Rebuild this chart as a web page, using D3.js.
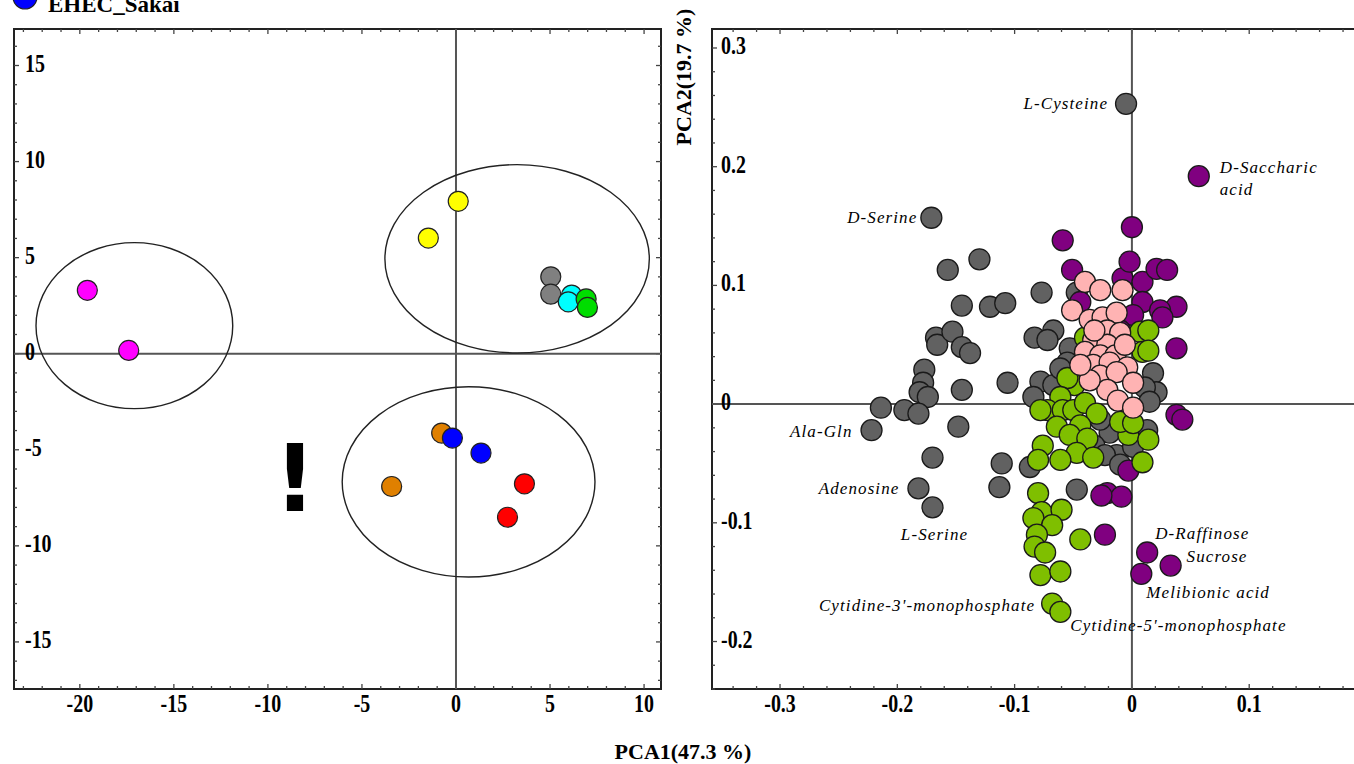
<!DOCTYPE html>
<html>
<head>
<meta charset="utf-8">
<script src="https://cdn.jsdelivr.net/npm/d3@7"></script>
<style>
  body { margin: 0; background: #fff; }
  svg { display: block; }
  .tick-label { font-family: "Liberation Serif", "Times New Roman", serif; font-weight: bold; font-size: 19px; }
  .axis-title { font-family: "Liberation Serif", "Times New Roman", serif; font-weight: bold; font-size: 22px; }
  .var-label { font-family: "Liberation Serif", "Times New Roman", serif; font-style: italic; font-size: 17px; letter-spacing: 1.1px; }
</style>
</head>
<body>
<svg id="chart"></svg>
<script>
// ---- score plot (left) : samples, grouped by colour ----
var scoreGroups = ["magenta", "yellow", "gray", "cyan", "green", "orange", "blue", "red"];
var scoreX = {
  magenta: [-19.6, -17.4],
  yellow: [0.12, -1.47],
  gray: [5.04, 5.04],
  cyan: [6.15, 5.97],
  green: [6.92, 6.99],
  orange: [-0.76, -3.42],
  blue: [-0.19, 1.33],
  red: [3.64, 2.74]
};
var scoreY = {
  magenta: [3.3, 0.17],
  yellow: [7.93, 6.02],
  gray: [4.0, 3.1],
  cyan: [3.05, 2.7],
  green: [2.85, 2.41],
  orange: [-4.13, -6.91],
  blue: [-4.39, -5.17],
  red: [-6.77, -8.51]
};
// confidence ellipses: centre x, centre y, half-width, half-height
var ellipseCx = [-17.1, 3.25, 0.67];
var ellipseCy = [1.46, 4.94, -6.67];
var ellipseRx = [5.23, 7.03, 6.72];
var ellipseRy = [4.32, 4.9, 4.95];

var scoreXTicks = [-20, -15, -10, -5, 0, 5, 10];
var scoreYTicks = [15, 10, 5, 0, -5, -10, -15];

// ---- loading plot (right) : metabolites, grouped by colour ----
var loadGroups = ["gray", "purple", "green", "pink"];
var loadX = {
  gray: [-0.005, -0.171, -0.157, -0.130, -0.145, -0.121, -0.108, -0.167, -0.166, -0.153, -0.145, -0.138,
         -0.177, -0.178, -0.181, -0.174, -0.145, -0.214, -0.194, -0.182, -0.222, -0.148, -0.170, -0.182,
         -0.170, -0.077, -0.047, -0.067, -0.083, -0.072, -0.053, -0.055, -0.106, -0.078, -0.084, -0.067,
         -0.061, -0.111, -0.113, -0.087, -0.047, -0.019, -0.013, 0.001, 0.013, 0.018, 0.021, 0.011,
         -0.032, -0.023, -0.027, -0.010, 0.015],
  purple: [0.057, -0.059, 0.000, -0.051, -0.008, 0.009, 0.021, 0.030, 0.009, 0.038, 0.024, 0.026,
           0.001, 0.038, -0.044, -0.010, 0.038, 0.043, -0.003, -0.021, -0.009, -0.026, -0.023, 0.013,
           0.033, 0.008, -0.002],
  green: [-0.049, -0.055, -0.061, -0.072, -0.078, -0.059, -0.050, -0.040, -0.030, -0.064, -0.044, -0.053,
          -0.038, -0.076, -0.047, -0.033, -0.061, -0.080, -0.003, 0.014, 0.009, -0.010, 0.001, -0.080,
          -0.077, -0.060, -0.084, -0.068, -0.081, -0.083, -0.074, -0.044, -0.078, -0.061, -0.068, -0.061,
          0.007, 0.014, -0.040, 0.009, 0.014, -0.040],
  pink: [-0.040, -0.027, -0.008, -0.051, -0.036, -0.025, -0.013, -0.021, -0.010, -0.033, -0.021, -0.040,
         -0.027, -0.014, -0.033, -0.019, -0.004, -0.027, -0.013, 0.001, -0.021, -0.036, -0.012, 0.001,
         -0.044, -0.032, -0.006]
};
var loadY = {
  gray: [0.253, 0.157, 0.113, 0.122, 0.083, 0.082, 0.085, 0.056, 0.050, 0.061, 0.048, 0.043,
         0.029, 0.018, 0.010, 0.006, 0.012, -0.003, -0.005, -0.008, -0.022, -0.019, -0.045, -0.071,
         -0.087, 0.094, 0.094, 0.062, 0.056, 0.054, 0.047, 0.035, 0.018, 0.019, 0.006, 0.016,
         0.030, -0.050, -0.070, -0.053, -0.072, -0.024, -0.043, -0.036, -0.022, 0.026, 0.010, 0.014,
         -0.035, -0.043, -0.013, -0.051, 0.002],
  purple: [0.192, 0.138, 0.149, 0.113, 0.106, 0.103, 0.114, 0.113, 0.086, 0.082, 0.079, 0.073,
           0.075, 0.047, 0.086, 0.062, -0.009, -0.013, -0.056, -0.075, -0.078, -0.077, -0.110, -0.125,
           -0.136, -0.143, 0.120],
  green: [0.016, 0.022, 0.006, -0.005, -0.005, -0.005, -0.005, 0.001, -0.008, -0.019, -0.018, -0.026,
          -0.029, -0.035, -0.041, -0.045, -0.047, -0.047, -0.026, -0.030, -0.049, -0.015, -0.016, -0.075,
          -0.091, -0.089, -0.096, -0.102, -0.110, -0.120, -0.125, -0.114, -0.144, -0.141, -0.168, -0.175,
          0.061, 0.062, 0.056, 0.044, 0.045, 0.037],
  pink: [0.103, 0.096, 0.096, 0.079, 0.071, 0.073, 0.077, 0.062, 0.060, 0.054, 0.050, 0.044,
         0.041, 0.041, 0.033, 0.035, 0.031, 0.024, 0.027, 0.018, 0.012, 0.020, 0.003, -0.003,
         0.033, 0.062, 0.050]
};

// named metabolites: text, group, index of the point in that group
var labelText = ["L-Cysteine", "D-Saccharic|acid", "D-Serine", "Ala-Gln", "Adenosine", "L-Serine",
                 "D-Raffinose", "Sucrose", "Melibionic acid", "Cytidine-3'-monophosphate", "Cytidine-5'-monophosphate"];
var labelGroup = ["gray", "purple", "gray", "gray", "gray", "gray", "purple", "purple", "purple", "green", "green"];
var labelIndex = [0, 0, 1, 20, 23, 24, 23, 24, 25, 34, 35];

var loadXTicks = [-0.3, -0.2, -0.1, 0, 0.1];
var loadYTicks = [0.3, 0.2, 0.1, 0, -0.1, -0.2];

// ---- styles ----
var scoreColor = {magenta: "#ff00ff", yellow: "#ffff00", gray: "#808080", cyan: "#00ffff",
                  green: "#00dd00", orange: "#e08000", blue: "#0000ff", red: "#ff0000"};
var loadColor = {gray: "#616161", purple: "#800080", green: "#7fbf00", pink: "#ffb3b3"};
// label offsets in px from the point: dx, dy, anchor
var labelDx = [-18, 21, -14, -19, -19, 2, 8, 16, 5, -17, 10];
var labelDy = [5, -3, 5, 7, 6, 33, -13, -4, 24, 7, 19];
var labelAnchor = ["end", "start", "end", "end", "end", "middle", "start", "start", "start", "end", "start"];

var W = 1354, H = 764;
var svg = d3.select("#chart").attr("width", W).attr("height", H);

function drawFrame(g, x, y, minorX, minorY) {
  var x0 = x.range()[0], x1 = x.range()[1], y0 = y.range()[0], y1 = y.range()[1];
  g.append("rect")
    .attr("x", x0).attr("y", y0)
    .attr("width", x1 - x0).attr("height", y1 - y0)
    .attr("fill", "none").attr("stroke", "#222").attr("stroke-width", 2);
  // inward ticks on all four sides
  minorX.forEach(function(v) {
    var len = v.major ? 5 : 3;
    g.append("line").attr("x1", x(v.v)).attr("x2", x(v.v)).attr("y1", y1).attr("y2", y1 - len)
      .attr("stroke", "#444").attr("stroke-width", 1.3);
    g.append("line").attr("x1", x(v.v)).attr("x2", x(v.v)).attr("y1", y0).attr("y2", y0 + len)
      .attr("stroke", "#444").attr("stroke-width", 1.3);
  });
  minorY.forEach(function(v) {
    var len = v.major ? 5 : 3;
    g.append("line").attr("y1", y(v.v)).attr("y2", y(v.v)).attr("x1", x0).attr("x2", x0 + len)
      .attr("stroke", "#444").attr("stroke-width", 1.3);
    g.append("line").attr("y1", y(v.v)).attr("y2", y(v.v)).attr("x1", x1).attr("x2", x1 - len)
      .attr("stroke", "#444").attr("stroke-width", 1.3);
  });
  // zero lines
  g.append("line").attr("x1", x(0)).attr("x2", x(0)).attr("y1", y0).attr("y2", y1)
    .attr("stroke", "#555").attr("stroke-width", 2);
  g.append("line").attr("x1", x0).attr("x2", x1).attr("y1", y(0)).attr("y2", y(0))
    .attr("stroke", "#555").attr("stroke-width", 2);
}

function tickList(lo, hi, step, majorStep) {
  var out = [];
  var n = Math.round((hi - lo) / step);
  for (var i = 0; i <= n; i++) {
    var v = +(lo + i * step).toFixed(4);
    out.push({v: v, major: Math.abs(v / majorStep - Math.round(v / majorStep)) < 1e-6});
  }
  return out;
}

function tickLabels(g, x, y, xt, yt, fmt, xLabelY, yLabelX) {
  g.selectAll(".xl").data(xt).join("text")
    .attr("class", "tick-label")
    .attr("text-anchor", "middle")
    .attr("transform", d => `translate(${x(d)},${xLabelY}) scale(1.05,1.35)`)
    .text(d => fmt(d));
  g.selectAll(".yl").data(yt).join("text")
    .attr("class", "tick-label")
    .attr("text-anchor", "start")
    .attr("transform", d => `translate(${yLabelX},${y(d) + 6}) scale(1.05,1.35)`)
    .text(d => fmt(d));
}

// ================= left: scores =================
var xS = d3.scaleLinear().domain([-23.5, 10.9]).range([14, 661]);
var yS = d3.scaleLinear().domain([16.9, -17.45]).range([29, 689]);
var left = svg.append("g");
drawFrame(left, xS, yS, tickList(-23, 10, 1, 5), tickList(-17, 16, 1, 5));
tickLabels(left, xS, yS, scoreXTicks, scoreYTicks, d => d3.format("d")(d).replace("−", "-"), 712, 25);

left.selectAll(".ell").data(ellipseCx).join("ellipse")
  .attr("cx", (d, i) => xS(d))
  .attr("cy", (d, i) => yS(ellipseCy[i]))
  .attr("rx", (d, i) => xS(ellipseRx[i]) - xS(0))
  .attr("ry", (d, i) => yS(0) - yS(ellipseRy[i]))
  .attr("fill", "none").attr("stroke", "#222").attr("stroke-width", 1.4);

scoreGroups.forEach(function(k) {
  left.selectAll(".s-" + k).data(scoreX[k]).join("circle")
    .attr("cx", d => xS(d))
    .attr("cy", (d, i) => yS(scoreY[k][i]))
    .attr("r", 10)
    .attr("fill", scoreColor[k]).attr("stroke", "#222").attr("stroke-width", 1.2);
});

left.append("text")
  .attr("x", xS(-8.56)).attr("y", yS(-6.46) + 33)
  .attr("text-anchor", "middle")
  .attr("font-family", "DejaVu Sans, sans-serif").attr("font-weight", "bold").attr("font-size", 92)
  .text("!");

// legend entry cut by the top edge
svg.append("circle").attr("cx", 25).attr("cy", -3).attr("r", 12)
  .attr("fill", "#0000ff").attr("stroke", "#222").attr("stroke-width", 1.2);
svg.append("text").attr("x", 48).attr("y", 12)
  .attr("font-family", "Liberation Serif, serif").attr("font-weight", "bold").attr("font-size", 23)
  .text("EHEC_Sakai");

// ================= right: loadings =================
var xL = d3.scaleLinear().domain([-0.358, 0.2]).range([712, 1366.5]);
var yL = d3.scaleLinear().domain([0.316, -0.24]).range([29, 689]);
var right = svg.append("g");
drawFrame(right, xL, yL, tickList(-0.34, 0.2, 0.02, 0.1), tickList(-0.24, 0.3, 0.02, 0.1));
tickLabels(right, xL, yL, loadXTicks, loadYTicks, d => d === 0 ? "0" : d3.format(".1f")(d).replace("−", "-"), 712, 721);

loadGroups.forEach(function(k) {
  right.selectAll(".l-" + k).data(loadX[k]).join("circle")
    .attr("cx", d => xL(d))
    .attr("cy", (d, i) => yL(loadY[k][i]))
    .attr("r", 10.5)
    .attr("fill", loadColor[k]).attr("stroke", "#1a1a1a").attr("stroke-width", 1.3);
});

labelText.forEach(function(t, i) {
  var k = labelGroup[i], j = labelIndex[i];
  var px = xL(loadX[k][j]) + labelDx[i], py = yL(loadY[k][j]) + labelDy[i];
  var txt = right.append("text").attr("class", "var-label")
    .attr("x", px).attr("y", py).attr("text-anchor", labelAnchor[i]);
  t.split("|").forEach(function(line, li) {
    txt.append("tspan").attr("x", px).attr("dy", li === 0 ? 0 : 22).text(line);
  });
});

// axis titles
svg.append("text").attr("class", "axis-title")
  .attr("x", 683).attr("y", 759).attr("text-anchor", "middle")
  .text("PCA1(47.3 %)");
svg.append("text").attr("class", "axis-title")
  .attr("transform", "translate(691,77) rotate(-90)").attr("text-anchor", "middle")
  .text("PCA2(19.7 %)");
</script>
</body>
</html>
